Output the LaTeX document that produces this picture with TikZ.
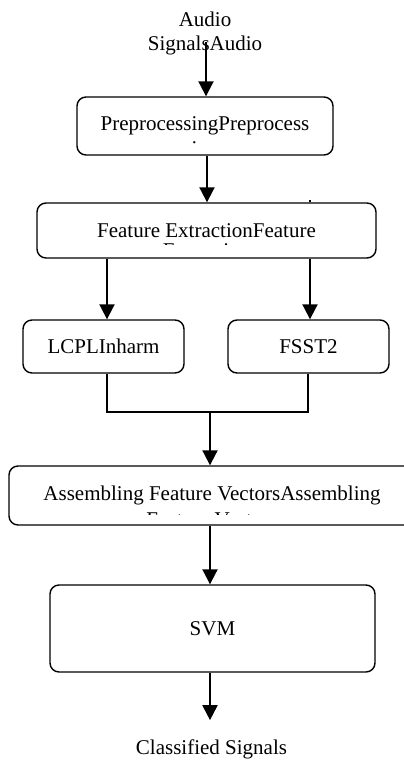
\documentclass[tikz,border=0pt]{standalone}
\usepackage{fontspec}
\setmainfont{Liberation Serif}
\usetikzlibrary{arrows.meta}
\begin{document}
\begin{tikzpicture}[x=1pt,y=-1pt,
  box/.style={draw,line width=1.4pt,rounded corners=9pt,inner sep=0pt,font=\fontsize{21}{24}\selectfont},
  lbl/.style={inner sep=0pt,font=\fontsize{21}{24}\selectfont},
  arr/.style={line width=2pt,-{Triangle[width=15pt,length=15pt]}},
  wire/.style={line width=1.4pt}]
\useasboundingbox (0,0) rectangle (404,760);
\clip (0,0) rectangle (404,760);
% text labels
\node[lbl,align=center] (in) at (205,33) {Audio\\SignalsAudio};
\node[lbl] (out) at (211.5,749) {Classified Signals};
% boxes
\node[box,minimum width=256pt,minimum height=58pt] (pre) at (205,126) {PreprocessingPreprocess};
\node[box,minimum width=339pt,minimum height=55pt] (fe) at (206.5,230.5) {Feature ExtractionFeature};
\node[box,minimum width=161pt,minimum height=53pt] (lcpl) at (103.5,346.5) {LCPLInharm};
\node[box,minimum width=161pt,minimum height=53pt] (fsst) at (308.5,346.5) {FSST2};
\node[box,minimum width=406pt,minimum height=59pt] (asm) at (212,495.5) {Assembling Feature VectorsAssembling};
\node[box,minimum width=325pt,minimum height=87pt] (svm) at (212.5,628.5) {SVM};
% clipped second lines
\begin{scope}
\clip (pre.north west) rectangle (333,143);
\node[lbl,anchor=base] (pre2) at (205,155.5) {ing};
\end{scope}
\begin{scope}
\clip (fe.north west) rectangle (376,244.5);
\node[lbl,anchor=base] (fe2) at (206.5,257) {Extraction};
\end{scope}
\begin{scope}
\clip (asm.north west) rectangle (404,514);
\node[lbl,anchor=base] (asm2) at (212,526) {Feature Vectors};
\end{scope}
% connectors
\coordinate (src) at (206,42);
\draw[arr] (src) -- (src |- pre.north);
\draw[arr] ([xshift=2pt]pre.south) -- ([xshift=2pt]pre.south |- fe.north);
\draw[arr] ([xshift=3.5pt]lcpl.north |- fe.south) -- ([xshift=3.5pt]lcpl.north);
\draw[arr] ([xshift=1.5pt]fsst.north |- fe.south) -- ([xshift=1.5pt]fsst.north);
\draw[line width=1.2pt] ([xshift=1.5pt]fe.north -| fsst.north) -- ++(0,-2.5);
\coordinate (join) at (210,412);
\draw[wire] ([xshift=3.5pt]lcpl.south) |- (join) -| ([xshift=-0.5pt]fsst.south);
\draw[arr] (join) -- (join |- asm.north);
\draw[arr] (asm.south -| join) -- (join |- svm.north);
\coordinate (tip) at ([yshift=19pt]out.north);
\draw[arr] (svm.south -| join) -- (tip -| join);
\end{tikzpicture}
\end{document}
